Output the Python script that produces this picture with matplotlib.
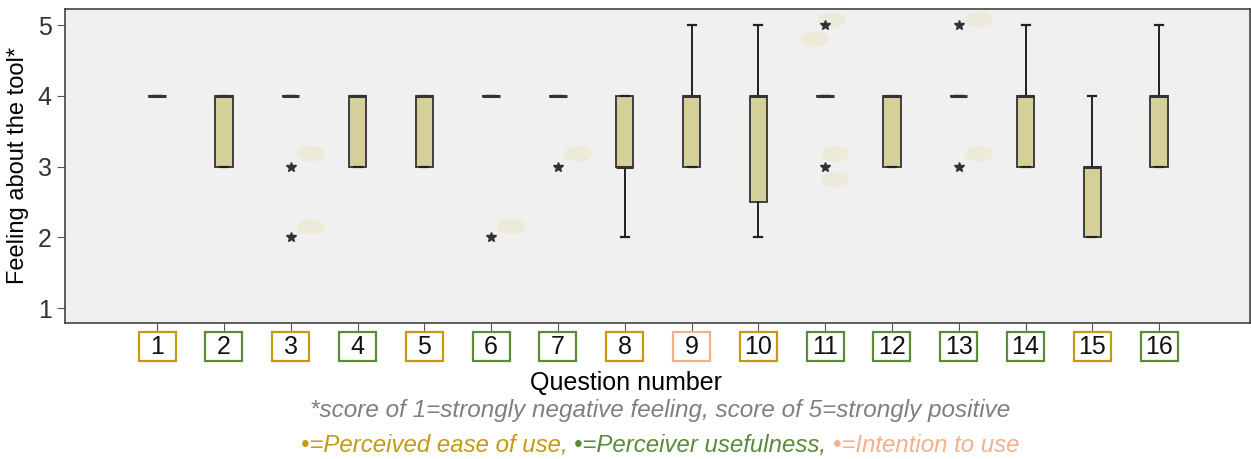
import matplotlib
matplotlib.use("Agg")
import matplotlib.pyplot as plt
from matplotlib.patches import Ellipse, Rectangle
from matplotlib.transforms import offset_copy

questions = list(range(1, 17))
# category of each question: E = ease of use, U = usefulness, I = intention
category = ["E", "U", "E", "U", "E", "U", "U", "E", "I", "E", "U", "U", "U", "U", "E", "U"]
q1 = [4, 3, 4, 3, 3, 4, 4, 3, 3, 2.5, 4, 3, 4, 3, 2, 3]
med = [4, 4, 4, 4, 4, 4, 4, 3, 4, 4, 4, 4, 4, 4, 3, 4]
q3 = [4, 4, 4, 4, 4, 4, 4, 4, 4, 4, 4, 4, 4, 4, 3, 4]
whislo = [4, 3, 4, 3, 3, 4, 4, 2, 3, 2, 4, 3, 4, 3, 2, 3]
whishi = [4, 4, 4, 4, 4, 4, 4, 4, 5, 5, 4, 4, 4, 5, 4, 5]
outliers = [[], [], [3, 2], [], [], [2], [3], [], [], [], [5, 3], [], [5, 3], [], [], []]
# faint leftover label blobs (question, value)
blobs = [(3.3, 3.18), (3.3, 2.15), (6.3, 2.15), (7.3, 3.18), (10.85, 4.8),
         (11.1, 5.08), (11.15, 3.18), (11.15, 2.82), (13.3, 5.08), (13.3, 3.18)]

cat_colors = {"E": "#c49a12", "U": "#5a8a3a", "I": "#f4b08a"}

plt.rcParams['font.family'] = ['Liberation Sans', 'DejaVu Sans']

fig = plt.figure(figsize=(12.51, 4.59), dpi=100)
ax = fig.add_axes([65 / 1251, 1 - 323 / 459, (1250 - 65) / 1251, (323 - 9) / 459])
ax.set_facecolor("#f0f0f0")

for bx, by in blobs:
    ax.add_patch(Ellipse((bx, by), 0.42, 0.22, facecolor="#ecead8", edgecolor="none", zorder=1))

stats = []
for i in range(len(questions)):
    stats.append(dict(med=med[i], q1=q1[i], q3=q3[i], whislo=whislo[i],
                      whishi=whishi[i], fliers=outliers[i]))

ax.bxp(stats, positions=questions, widths=0.26, patch_artist=True,
       boxprops=dict(facecolor="#d5d09a", edgecolor="#333333", linewidth=1.3),
       medianprops=dict(color="#333333", linewidth=2.2),
       whiskerprops=dict(color="#222222", linewidth=1.4),
       capprops=dict(color="#222222", linewidth=1.6),
       capwidths=0.12,
       flierprops=dict(marker="*", markersize=7, markerfacecolor="#333333",
                       markeredgecolor="#333333", linestyle="none"),
       zorder=3)

ax.set_xlim(-0.38, 17.36)
ax.set_ylim(0.79, 5.23)
ax.set_yticks([1, 2, 3, 4, 5])
ax.set_yticklabels(["1", "2", "3", "4", "5"], fontsize=18, color="#333333")
ax.set_xticks(questions)
ax.set_xticklabels([])
ax.tick_params(axis="x", length=8, color="#555555")
ax.tick_params(axis="y", length=6, color="#555555")
for s in ax.spines.values():
    s.set_color("#444444")
    s.set_linewidth(1.2)

# boxed question numbers under the ticks
tr = ax.get_xaxis_transform()
box_w = 37 / 66.8
box_top = -9 / 314
box_h = 29 / 314
for q, c in zip(questions, category):
    ax.add_patch(Rectangle((q - box_w / 2, box_top - box_h), box_w, box_h, transform=tr,
                           facecolor="white", edgecolor=cat_colors[c], linewidth=1.6,
                           clip_on=False, zorder=5))
    ax.text(q, box_top - box_h / 2, str(q), transform=tr, ha="center", va="center",
            fontsize=18, color="#111111", clip_on=False, zorder=6)

ax.set_ylabel("Feeling about the tool*", fontsize=17, labelpad=6)
fig.text(626 / 1251, 1 - 383 / 459, "Question number", ha="center", va="center", fontsize=18)

fig.text(660 / 1251, 1 - 410 / 459, "*score of 1=strongly negative feeling, score of 5=strongly positive",
         ha="center", va="center", fontsize=17.5, style="italic", color="#7f7f7f")

# legend line made of coloured pieces
pieces = [("\u2022=Perceived ease of use, ", cat_colors["E"]),
          ("\u2022=Perceiver usefulness, ", cat_colors["U"]),
          ("\u2022=Intention to use", cat_colors["I"])]
texts = []
for s, c in pieces:
    t = fig.text(0, 1 - 452 / 459, s, ha="left", va="baseline", fontsize=17.3,
                 style="italic", color=c)
    texts.append(t)

fig.canvas.draw()
r = fig.canvas.get_renderer()
w = [t.get_window_extent(r).width for t in texts]
x0 = 660 - sum(w) / 2
base = 1 - 452 / 459
for i, t in enumerate(texts):
    t.set_position(((x0 + sum(w[:i])) / 1251, base))

fig.savefig("out.png", dpi=100)
